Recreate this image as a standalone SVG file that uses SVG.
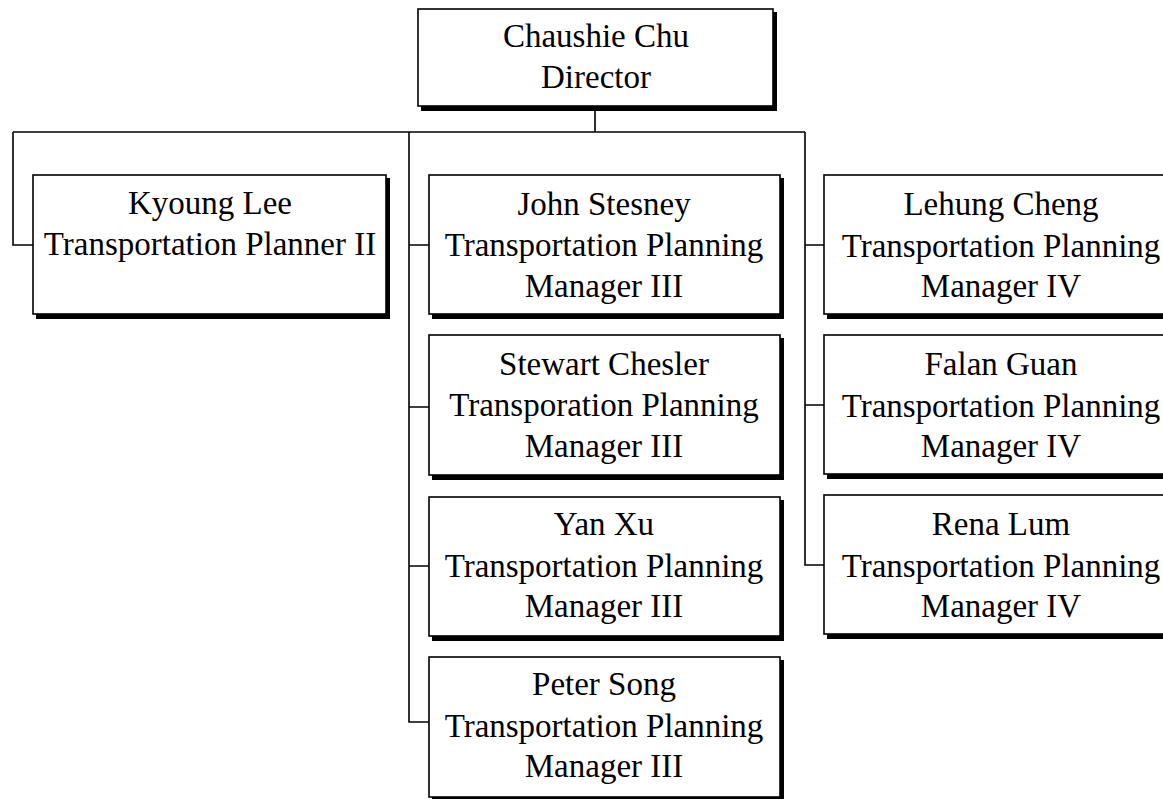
<svg xmlns="http://www.w3.org/2000/svg" width="1163" height="799" viewBox="0 0 1163 799">
<style>
.sh{fill:#000}
.bx{fill:#fff;stroke:#000;stroke-width:1.6}
.t{font-family:"Liberation Serif","Times New Roman",serif;font-size:33px;fill:#000;text-anchor:middle}
.c{fill:none;stroke:#000;stroke-width:1.6}
</style>
<rect width="1163" height="799" fill="#fff"/>
<g id="connectors">
<path class="c" d="M595,107V132M13,132H805M13,132V245H33M409,132V722H429M409,245H429M409,407H429M409,566H429M805,132V565H824M805,245H824M805,405H824"/>
</g>
<g id="director">
<rect class="sh" x="421" y="12" width="356" height="99"/>
<rect class="bx" x="418" y="9" width="355" height="97"/>
<text class="t" x="596" y="47">Chaushie Chu</text>
<text class="t" x="596" y="88">Director</text>
</g>
<g id="kyoung">
<rect class="sh" x="36" y="178" width="354" height="141"/>
<rect class="bx" x="33" y="175" width="353" height="139"/>
<text class="t" x="210" y="214">Kyoung Lee</text>
<text class="t" x="210" y="255">Transportation Planner II</text>
</g>
<g id="john">
<rect class="sh" x="432" y="178" width="352" height="141"/>
<rect class="bx" x="429" y="175" width="351" height="139"/>
<text class="t" x="604" y="215">John Stesney</text>
<text class="t" x="604" y="256">Transportation Planning</text>
<text class="t" x="604" y="297">Manager III</text>
</g>
<g id="stewart">
<rect class="sh" x="432" y="338" width="352" height="142"/>
<rect class="bx" x="429" y="335" width="351" height="140"/>
<text class="t" x="604" y="375">Stewart Chesler</text>
<text class="t" x="604" y="416">Transporation Planning</text>
<text class="t" x="604" y="457">Manager III</text>
</g>
<g id="yan">
<rect class="sh" x="432" y="500" width="352" height="141"/>
<rect class="bx" x="429" y="497" width="351" height="139"/>
<text class="t" x="604" y="535">Yan Xu</text>
<text class="t" x="604" y="577">Transportation Planning</text>
<text class="t" x="604" y="617">Manager III</text>
</g>
<g id="peter">
<rect class="sh" x="432" y="660" width="352" height="142"/>
<rect class="bx" x="429" y="657" width="351" height="140"/>
<text class="t" x="604" y="695">Peter Song</text>
<text class="t" x="604" y="737">Transportation Planning</text>
<text class="t" x="604" y="777">Manager III</text>
</g>
<g id="lehung">
<rect class="sh" x="827" y="178" width="355" height="141"/>
<rect class="bx" x="824" y="175" width="354" height="139"/>
<text class="t" x="1001" y="215">Lehung Cheng</text>
<text class="t" x="1001" y="257">Transportation Planning</text>
<text class="t" x="1001" y="297">Manager IV</text>
</g>
<g id="falan">
<rect class="sh" x="827" y="338" width="355" height="141"/>
<rect class="bx" x="824" y="335" width="354" height="139"/>
<text class="t" x="1001" y="375">Falan Guan</text>
<text class="t" x="1001" y="417">Transportation Planning</text>
<text class="t" x="1001" y="457">Manager IV</text>
</g>
<g id="rena">
<rect class="sh" x="827" y="498" width="355" height="141"/>
<rect class="bx" x="824" y="495" width="354" height="139"/>
<text class="t" x="1001" y="535">Rena Lum</text>
<text class="t" x="1001" y="577">Transportation Planning</text>
<text class="t" x="1001" y="617">Manager IV</text>
</g>
</svg>
